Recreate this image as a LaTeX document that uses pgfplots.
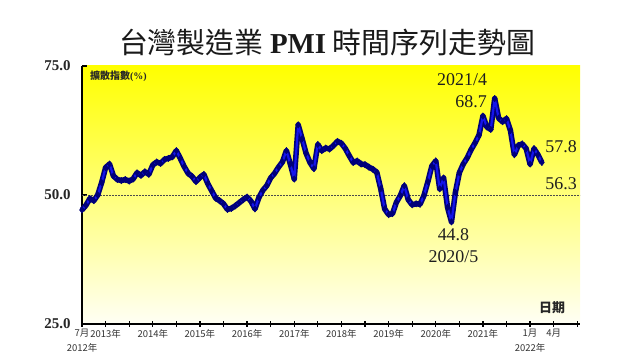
\documentclass[border=0pt]{standalone}
\usepackage{pgfplots}
\pgfplotsset{compat=1.18}
\usepackage{pgfplotstable}
\usepackage{fontspec}
\setmainfont{Liberation Serif}
\newfontfamily\cjk{Noto Sans CJK TC}
\definecolor{navyline}{RGB}{0,0,120}
\definecolor{blueline}{RGB}{20,20,235}
\definecolor{annot}{RGB}{30,30,30}

\pgfplotstableread{
m v
0 47.1
1 48.0
2 49.3
3 48.9
4 50.0
5 52.4
6 55.3
7 56.0
8 53.7
9 53.0
10 52.8
11 53.0
12 52.7
13 53.1
14 54.3
15 53.8
16 54.5
17 54.0
18 55.8
19 56.4
20 56.1
21 56.9
22 57.1
23 57.4
24 58.6
25 57.1
26 55.5
27 54.2
28 53.6
29 52.6
30 53.4
31 54.0
32 52.2
33 50.8
34 49.4
35 48.9
36 48.3
37 47.2
38 47.4
39 47.9
40 48.5
41 49.1
42 49.6
43 48.8
44 47.3
45 49.5
46 50.9
47 51.8
48 53.3
49 54.2
50 55.4
51 56.4
52 58.6
53 56.0
54 53.1
55 63.6
56 60.9
57 58.1
58 56.3
59 55.1
60 59.8
61 58.6
62 59.1
63 58.9
64 59.6
65 60.4
66 60.0
67 59.0
68 57.6
69 56.3
70 56.6
71 56.0
72 55.9
73 55.4
74 55.0
75 54.4
76 51.2
77 47.3
78 46.2
79 46.4
80 48.6
81 49.9
82 51.8
83 49.1
84 48.1
85 48.3
86 48.2
87 49.9
88 52.6
89 55.6
90 56.6
91 51.2
92 53.3
93 47.6
94 44.8
95 50.5
96 54.3
97 56.0
98 57.2
99 58.8
100 60.1
101 61.6
102 65.3
103 63.2
104 62.7
105 68.7
106 64.9
107 64.2
108 64.8
109 62.5
110 57.8
111 59.6
112 59.9
113 59.0
114 56.0
115 59.0
116 57.8
117 56.3
}\pmi

\begin{document}
\begin{tikzpicture}
\useasboundingbox[fill=white] (0,0) rectangle (640bp,360bp);
\node[font=\cjk\fontsize{29}{29}\selectfont, text=black!90] at (327bp,318bp) {台灣製造業 \textrm{\bfseries PMI} 時間序列走勢圖};
\begin{axis}[
  at={(82bp,36bp)}, anchor=south west,
  width=498bp, height=258bp, scale only axis,
  xmin=0, xmax=126.7, ymin=25, ymax=75,
  axis lines=left,
  axis line style={-, line width=1.6bp, black},
  axis background/.style={top color=yellow, middle color=yellow!35!white, bottom color=yellow!4!white},
  ytick={25,50,75}, yticklabels={25.0,50.0,75.0},
  yticklabel style={font=\fontsize{15}{15}\selectfont\bfseries, xshift=-8bp, text=black!85},
  xtick={0,6,18,30,42,54,66,78,90,102,114,120},
  xticklabels={{7月\\2012年},2013年,2014年,2015年,2016年,2017年,2018年,2019年,2020年,2021年,{1月\\2022年},4月},
  minor xtick={12,24,36,48,60,72,84,96,108,126},
  xticklabel style={font=\cjk\fontsize{9.5}{15}\selectfont, align=center, text=black!80, yshift=1bp},
  tick style={black, line width=1.2bp},
  major tick length=5bp, minor tick length=5bp,
  xtick align=center, ytick align=inside,
  clip=false,
]
\draw[gray!60!black, dash pattern=on 1.5bp off 1.5bp, line width=0.5bp] (axis cs:0,50) -- (axis cs:126.7,50);
\addplot[navyline, line width=5.5bp, line join=round, mark=diamond*, mark size=3.3bp, mark options={navyline, line width=0.4bp}] table[x=m,y=v]{\pmi};
\addplot[blueline, line width=2.2bp, line join=round] table[x=m,y=v]{\pmi};
\node[font=\cjk\bfseries\fontsize{10}{10}\selectfont, anchor=west, text=black!85] at (axis cs:1.2,73.1) {擴散指數\textrm{(\%)}};
\node[font=\fontsize{18}{18}\selectfont, text=annot] at (axis cs:96.7,72.3) {2021/4};
\node[font=\fontsize{18}{18}\selectfont, text=annot] at (axis cs:99,68.1) {68.7};
\node[font=\fontsize{18}{18}\selectfont, text=annot] at (axis cs:121.9,59.4) {57.8};
\node[font=\fontsize{18}{18}\selectfont, text=annot] at (axis cs:121.9,52.1) {56.3};
\node[font=\fontsize{18}{18}\selectfont, text=annot] at (axis cs:94.5,42.3) {44.8};
\node[font=\fontsize{18}{18}\selectfont, text=annot] at (axis cs:94.5,38.0) {2020/5};
\node[font=\cjk\bfseries\fontsize{13}{13}\selectfont, text=black!85] at (axis cs:119.6,28.1) {日期};
\end{axis}
\end{tikzpicture}
\end{document}
